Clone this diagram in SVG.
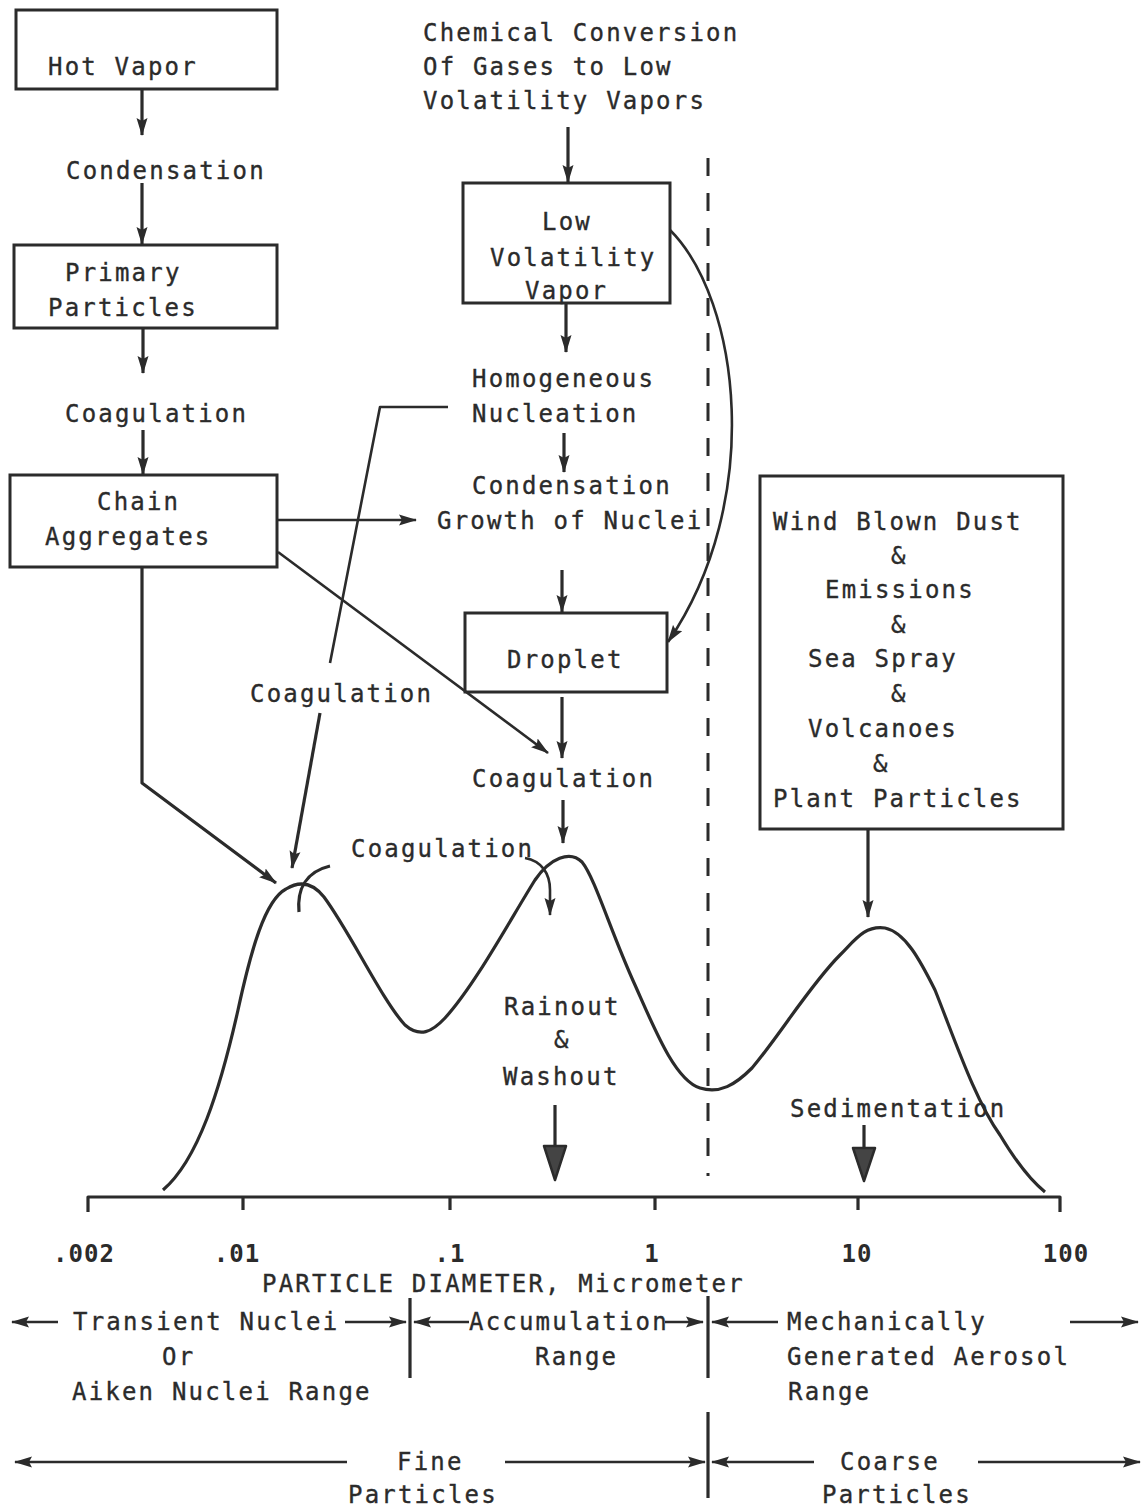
<svg xmlns="http://www.w3.org/2000/svg" width="1145" height="1510" viewBox="0 0 1145 1510">
<defs>
<style>
.t{font-family:"DejaVu Sans Mono","Liberation Mono",monospace;font-size:24px;letter-spacing:2.2px;fill:#2b2b2b;stroke:#2b2b2b;stroke-width:0.35}
.n{font-family:"DejaVu Sans Mono","Liberation Mono",monospace;font-size:24px;font-weight:bold;letter-spacing:1px;fill:#2b2b2b;text-anchor:middle}
.box{fill:none;stroke:#2b2b2b;stroke-width:3}
.c{fill:none;stroke:#2b2b2b;stroke-width:3.2;stroke-linejoin:round}
.a{marker-end:url(#ah)}
.thin{stroke-width:2.6}
.dash{fill:none;stroke:#2b2b2b;stroke-width:3;stroke-dasharray:18 17}
.head{fill:#444;stroke:#2b2b2b;stroke-width:2.5;stroke-linejoin:round}
</style>
<marker id="ah" viewBox="0 0 18 12" refX="17" refY="6" markerWidth="18" markerHeight="12" markerUnits="userSpaceOnUse" orient="auto">
<path d="M0,0.5 L18,6 L0,11.5 L3,6 z" fill="#2b2b2b"/>
</marker>
</defs>
<rect width="1145" height="1510" fill="#ffffff"/>

<g id="hot-vapor">
<rect class="box" x="16" y="10" width="261" height="79"/>
<text class="t" x="48" y="75">Hot Vapor</text>
</g>
<g id="condensation-1"><text class="t" x="66" y="179">Condensation</text></g>
<g id="primary-particles">
<rect class="box" x="14" y="245" width="263" height="83"/>
<text class="t" x="65" y="281">Primary</text>
<text class="t" x="48" y="316">Particles</text>
</g>
<g id="coagulation-1"><text class="t" x="65" y="422">Coagulation</text></g>
<g id="chain-aggregates">
<rect class="box" x="10" y="475" width="267" height="92"/>
<text class="t" x="97" y="510">Chain</text>
<text class="t" x="45" y="545">Aggregates</text>
</g>
<g id="coagulation-2"><text class="t" x="250" y="702">Coagulation</text></g>

<g id="chemical-conversion">
<text class="t" x="423" y="41">Chemical Conversion</text>
<text class="t" x="423" y="75">Of Gases to Low</text>
<text class="t" x="423" y="109">Volatility Vapors</text>
</g>
<g id="low-volatility-vapor">
<rect class="box" x="463" y="183" width="207" height="120"/>
<text class="t" x="542" y="230">Low</text>
<text class="t" x="490" y="266">Volatility</text>
<text class="t" x="525" y="299">Vapor</text>
</g>
<g id="homogeneous-nucleation">
<text class="t" x="472" y="387">Homogeneous</text>
<text class="t" x="472" y="422">Nucleation</text>
</g>
<g id="condensation-growth">
<text class="t" x="472" y="494">Condensation</text>
<text class="t" x="437" y="529">Growth of Nuclei</text>
</g>
<g id="droplet">
<rect class="box" x="465" y="613" width="202" height="79"/>
<text class="t" x="507" y="668">Droplet</text>
</g>
<g id="coagulation-3"><text class="t" x="472" y="787">Coagulation</text></g>
<g id="coagulation-4"><text class="t" x="351" y="857">Coagulation</text></g>

<g id="sources">
<rect class="box" x="760" y="476" width="303" height="353"/>
<text class="t" x="773" y="530">Wind Blown Dust</text>
<text class="t" x="891" y="564">&amp;</text>
<text class="t" x="825" y="598">Emissions</text>
<text class="t" x="891" y="633">&amp;</text>
<text class="t" x="808" y="667">Sea Spray</text>
<text class="t" x="891" y="702">&amp;</text>
<text class="t" x="808" y="737">Volcanoes</text>
<text class="t" x="873" y="772">&amp;</text>
<text class="t" x="773" y="807">Plant Particles</text>
</g>

<g id="rainout">
<text class="t" x="504" y="1015">Rainout</text>
<text class="t" x="554" y="1048">&amp;</text>
<text class="t" x="503" y="1085">Washout</text>
</g>
<g id="sedimentation"><text class="t" x="790" y="1117">Sedimentation</text></g>

<g id="distribution-curve">
<path class="c" d="M163,1190 C198,1160 220,1090 238,1010 C251,950 265,900 286,889 C299,881 312,882 324,897 C350,932 382,1000 405,1025 C420,1038 432,1032 445,1018 C475,985 510,920 535,880 C550,858 570,850 582,862 C595,878 610,930 635,985 C655,1030 675,1080 700,1088 C720,1094 735,1085 752,1068 C780,1035 810,985 840,955 C855,940 865,925 885,928 C905,932 920,960 935,990 C955,1040 975,1100 1000,1135 C1015,1160 1030,1180 1045,1192"/>
<path class="c" d="M299,912 C297,890 305,872 330,866"/>
</g>

<g id="axis">
<path class="c" d="M88,1212 L88,1197 L1060,1197 L1060,1212 M243,1197 V1210 M450,1197 V1210 M655,1197 V1210 M858,1197 V1210"/>
<text class="n" x="84" y="1262">.002</text>
<text class="n" x="237" y="1262">.01</text>
<text class="n" x="450" y="1262">.1</text>
<text class="n" x="652" y="1262">1</text>
<text class="n" x="857" y="1262">10</text>
<text class="n" x="1066" y="1262">100</text>
<text class="t" x="262" y="1292">PARTICLE DIAMETER, Micrometer</text>
</g>

<g id="ranges">
<text class="t" x="73" y="1330">Transient Nuclei</text>
<text class="t" x="162" y="1365">Or</text>
<text class="t" x="72" y="1400">Aiken Nuclei Range</text>
<text class="t" x="469" y="1330">Accumulation</text>
<text class="t" x="535" y="1365">Range</text>
<text class="t" x="787" y="1330">Mechanically</text>
<text class="t" x="787" y="1365">Generated Aerosol</text>
<text class="t" x="788" y="1400">Range</text>
<text class="t" x="397" y="1470">Fine</text>
<text class="t" x="348" y="1503">Particles</text>
<text class="t" x="840" y="1470">Coarse</text>
<text class="t" x="822" y="1503">Particles</text>
</g>

<g id="connectors">
<line class="c a" x1="142" y1="89" x2="142" y2="135"/>
<line class="c a" x1="142" y1="183" x2="142" y2="244"/>
<line class="c a" x1="143" y1="328" x2="143" y2="373"/>
<line class="c a" x1="143" y1="430" x2="143" y2="474"/>
<line class="c a thin" x1="277" y1="520" x2="416" y2="520"/>
<line class="c a thin" x1="278" y1="552" x2="548" y2="753"/>
<path class="c a" d="M142,567 L142,783 L276,883"/>
<path class="c thin" d="M448,407 L380,407 L330,663"/>
<line class="c a" x1="320" y1="713" x2="292" y2="868"/>
<line class="c a" x1="568" y1="127" x2="568" y2="182"/>
<line class="c a" x1="566" y1="304" x2="566" y2="352"/>
<line class="c a" x1="564" y1="433" x2="564" y2="472"/>
<line class="c a" x1="562" y1="570" x2="562" y2="612"/>
<line class="c a" x1="562" y1="697" x2="562" y2="758"/>
<line class="c a" x1="563" y1="800" x2="563" y2="843"/>
<path class="c a thin" d="M670,230 C740,300 765,500 668,642"/>
<path class="c a thin" d="M525,858 C542,861 550,874 550,890 L550,915"/>
<line class="c a" x1="868" y1="829" x2="868" y2="917"/>
<line class="c" x1="555" y1="1105" x2="555" y2="1148"/>
<path class="head" d="M544,1146 L566,1146 L555,1180 z"/>
<line class="c" x1="864" y1="1125" x2="864" y2="1150"/>
<path class="head" d="M853,1148 L875,1148 L864,1181 z"/>
<line class="dash" x1="708" y1="158" x2="708" y2="1176"/>
<line class="c" x1="410" y1="1298" x2="410" y2="1378"/>
<line class="c" x1="708" y1="1296" x2="708" y2="1378"/>
<line class="c" x1="708" y1="1412" x2="708" y2="1498"/>
<line class="c a thin" x1="58" y1="1322" x2="12" y2="1322"/>
<line class="c a thin" x1="345" y1="1322" x2="406" y2="1322"/>
<line class="c a thin" x1="469" y1="1322" x2="414" y2="1322"/>
<line class="c a thin" x1="665" y1="1322" x2="703" y2="1322"/>
<line class="c a thin" x1="778" y1="1322" x2="712" y2="1322"/>
<line class="c a thin" x1="1070" y1="1322" x2="1138" y2="1322"/>
<line class="c a thin" x1="347" y1="1462" x2="15" y2="1462"/>
<line class="c a thin" x1="505" y1="1462" x2="705" y2="1462"/>
<line class="c a thin" x1="814" y1="1462" x2="712" y2="1462"/>
<line class="c a thin" x1="978" y1="1462" x2="1140" y2="1462"/>
</g>
</svg>
